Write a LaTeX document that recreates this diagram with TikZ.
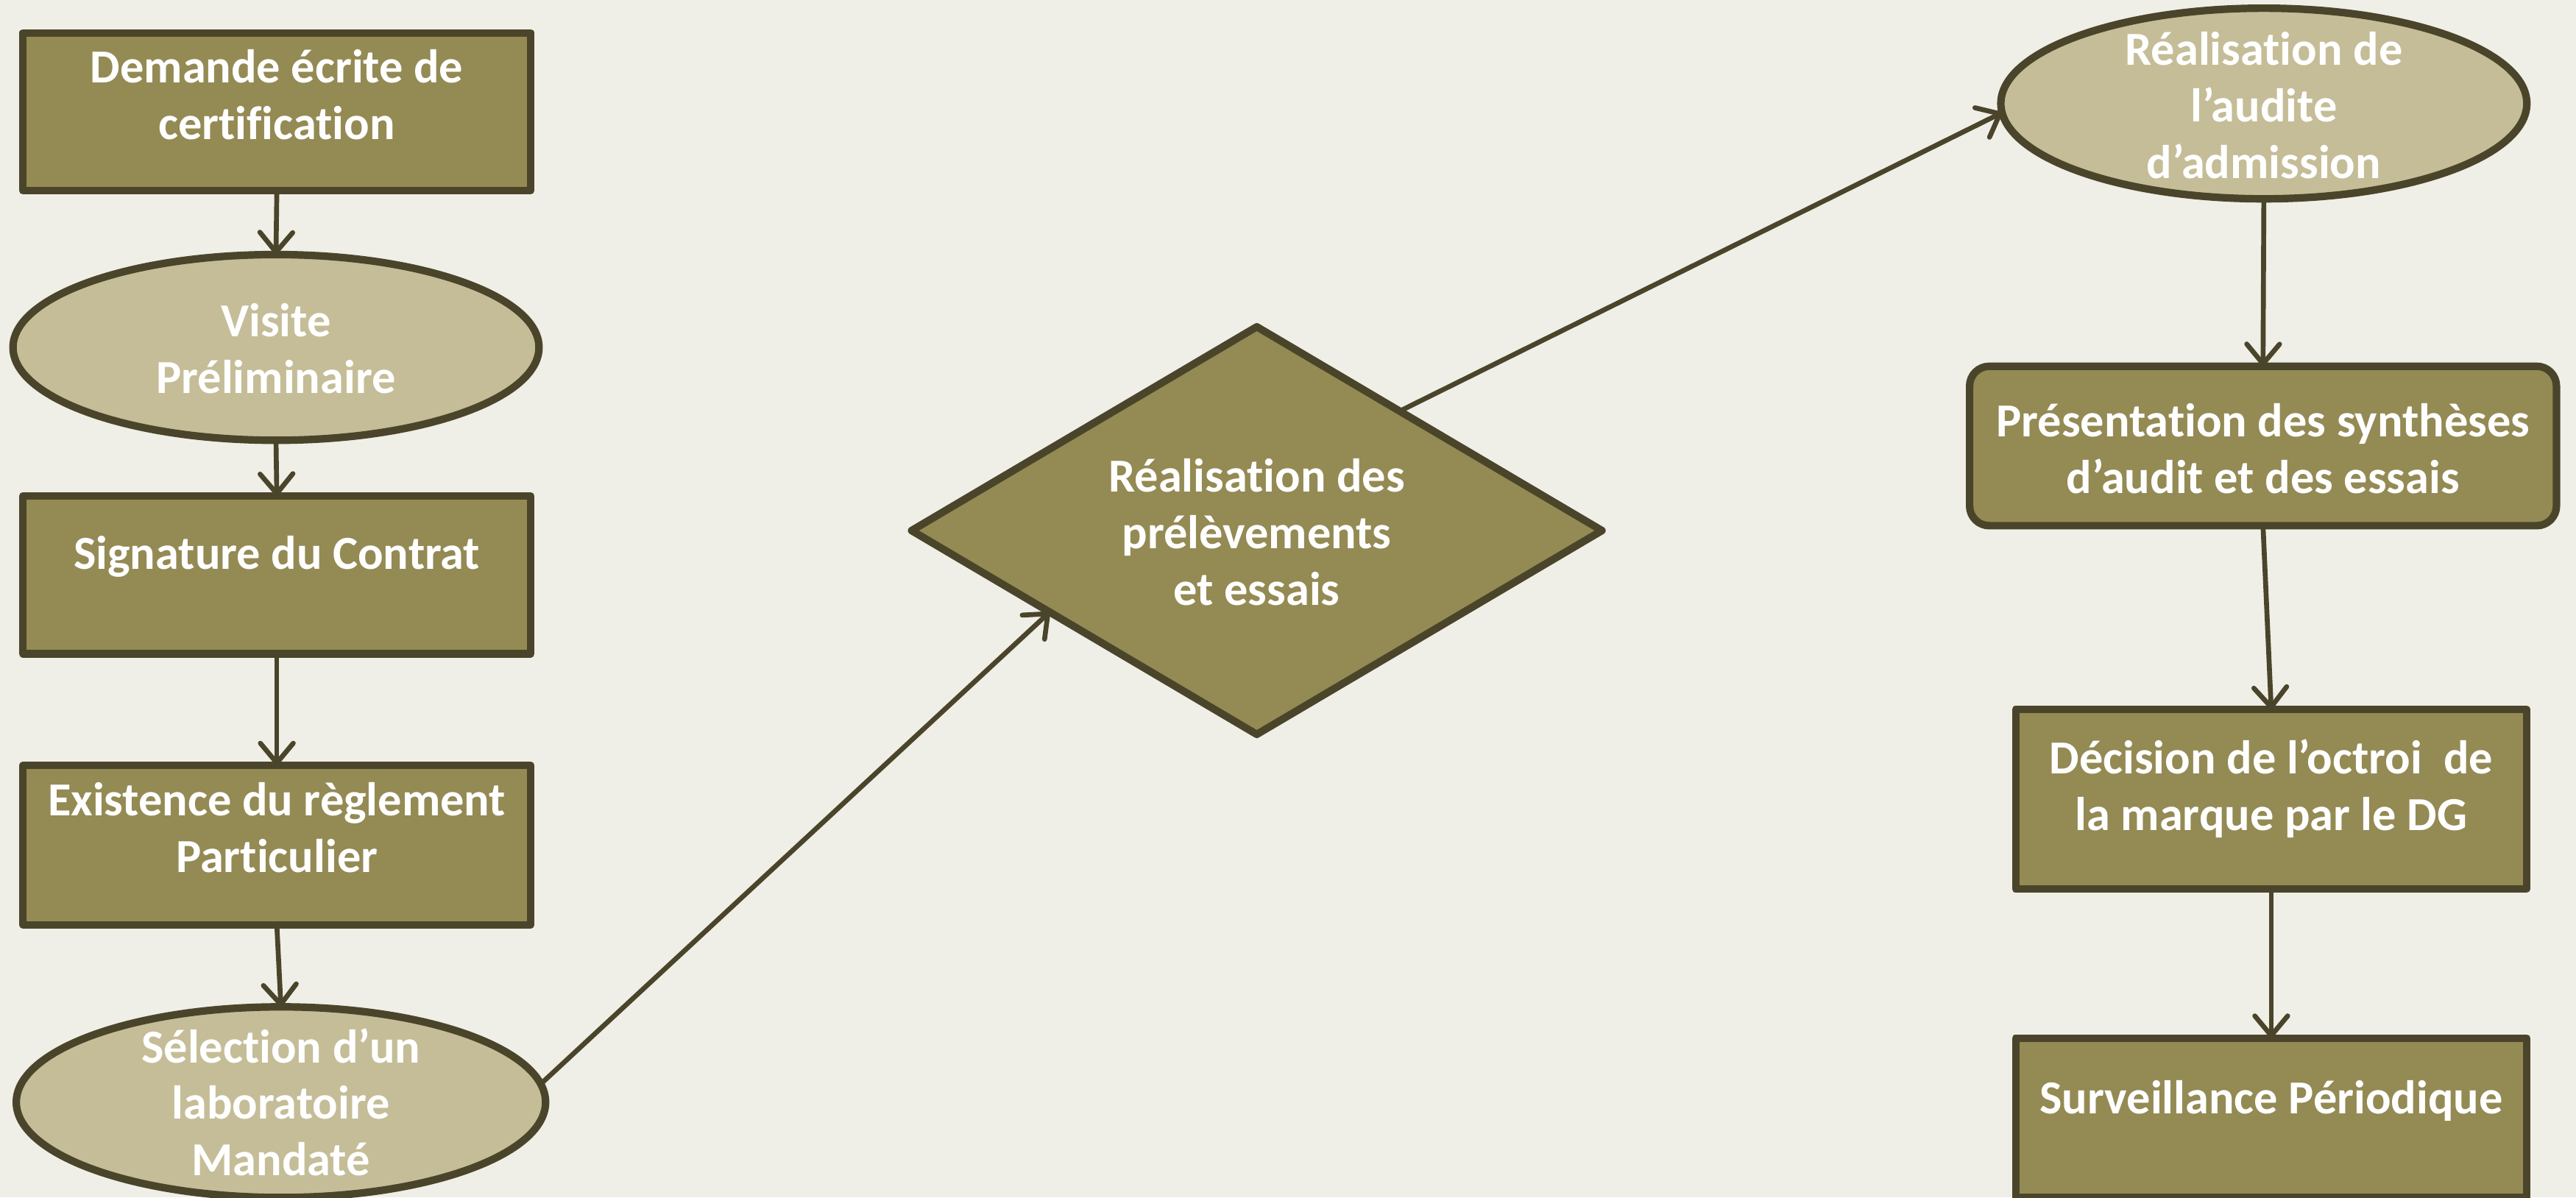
\documentclass[tikz,border=0pt]{standalone}
\usepackage{fontspec}
\setmainfont{Carlito}[Ligatures=NoCommon]
\usetikzlibrary{shapes.geometric,arrows.meta,calc}
\definecolor{bgc}{HTML}{EFEEE7}
\definecolor{boxfill}{HTML}{948A54}
\definecolor{ellfill}{HTML}{C4BD97}
\definecolor{edge}{HTML}{4A452A}
\tikzset{
  base/.style={draw=edge, line width=1.3pt, line join=round, inner sep=0pt, outer sep=0pt},
  boxnode/.style={base, rectangle, fill=boxfill},
  ellnode/.style={base, ellipse, fill=ellfill},
  dianode/.style={base, diamond, fill=boxfill},
  txt/.style={text=white, font=\fontsize{8.2}{9.8}\selectfont\bfseries, align=center, inner sep=0pt},
  conn/.style={draw=edge, line width=0.85pt, line cap=round, -{Straight Barb[length=0.12cm, width=0.2cm, line width=0.85pt, round]}}
}
\begin{document}
\begin{tikzpicture}[x=0.01cm, y=-0.01cm]
\fill[bgc] (0,0) rectangle (1568,729);
\useasboundingbox (0,0) rectangle (1568,729);

% left column
\node[boxnode, minimum width=3.09cm, minimum height=0.96cm] (b1) at (168.5,68) {};
\node[txt] at (168.5,57.5) {Demande écrite de\\certification};

\node[ellnode, minimum width=3.2cm, minimum height=1.13cm] (vis) at (168,211.5) {};
\node[txt] at (168,212) {Visite\\Préliminaire};

\node[boxnode, minimum width=3.09cm, minimum height=0.96cm] (sig) at (168.5,350) {};
\node[txt] at (168.5,339) {Signature du Contrat};

\node[boxnode, minimum width=3.09cm, minimum height=0.97cm] (exi) at (168.5,514.5) {};
\node[txt] at (168.5,504) {Existence du règlement\\Particulier};

\node[ellnode, minimum width=3.22cm, minimum height=1.16cm] (sel) at (171,671) {};
\node[txt] at (171,671) {Sélection d’un\\laboratoire\\Mandaté};

% diamond
\node[dianode, minimum width=4.2cm, minimum height=2.48cm] (dia) at (765,323) {};
\node[txt] at (765,324) {Réalisation des\\prélèvements\\et essais};

% right column
\node[ellnode, minimum width=3.2cm, minimum height=1.16cm] (aud) at (1378,63) {};
\node[txt] at (1378,64) {Réalisation de\\l’audite\\d’admission};

\node[boxnode, rounded corners=0.12cm, minimum width=3.57cm, minimum height=0.97cm] (pre) at (1377.5,271.5) {};
\node[txt] at (1377.5,273) {Présentation des synthèses\\d’audit et des essais};

\node[boxnode, minimum width=3.11cm, minimum height=1.09cm] (dec) at (1382.5,486.5) {};
\node[txt] at (1382.5,480) {Décision de l’octroi~ de\\la marque par le DG};

\node[boxnode, minimum width=3.11cm, minimum height=0.97cm] (sur) at (1382.5,680.5) {};
\node[txt] at (1382.5,670) {Surveillance Périodique};

% connectors
\draw[conn] (b1.south) -- (vis.north);
\draw[conn] (vis.south) -- (sig.north);
\draw[conn] (sig.south) -- (exi.north);
\draw[conn] (exi.south) -- (sel.north);
\draw[conn] (sel.4) -- ($(dia.west)!0.4!(dia.south)$);
\draw[conn] ($(dia.north)!0.414!(dia.east)$) -- (aud.182);
\draw[conn] (aud.south) -- (pre.north);
\draw[conn] (pre.south) -- (dec.north);
\draw[conn] (dec.south) -- (sur.north);
\end{tikzpicture}
\end{document}
